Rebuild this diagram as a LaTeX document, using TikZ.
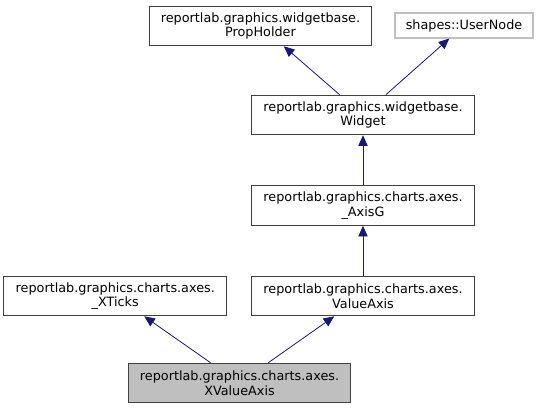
\documentclass[tikz,border=0pt]{standalone}
\usepackage{fontspec}
\setmainfont{DejaVu Sans}
\usepackage{xcolor}
\usetikzlibrary{positioning, arrows.meta}
\definecolor{edgeblue}{RGB}{25,25,112}
\definecolor{boxgray}{RGB}{191,191,191}

\begin{document}
\begin{tikzpicture}[
  x=0.75pt, y=-0.75pt,
  every node/.style={inner sep=2pt},
  cls/.style={rectangle, draw=black!75, line width=0.8pt, align=center,
              minimum width=167pt, minimum height=29.6pt,
              font=\fontsize{9.6}{11}\selectfont},
  ext/.style={cls, draw=black!25, minimum width=103.5pt, minimum height=18.75pt},
  this/.style={cls, fill=boxgray},
  inh/.style={-{Triangle[length=8pt, width=7pt]}, edgeblue, line width=0.6pt}
]
\useasboundingbox (0,0) rectangle (541,409);

% Base classes
\node[cls] (propholder) at (260.5,26) {reportlab.graphics.widgetbase.\\PropHolder};
\node[ext] (usernode) at (464,25.5) {shapes::UserNode};

% Main column
\node[cls] (widget) at (363,115) {reportlab.graphics.widgetbase.\\Widget};
\node[cls, below=37.5pt of widget] (axisg) {reportlab.graphics.charts.axes.\\\_AxisG};
\node[cls, below=37.5pt of axisg] (valueaxis) {reportlab.graphics.charts.axes.\\ValueAxis};
\node[cls, left=18pt of valueaxis] (xticks) {reportlab.graphics.charts.axes.\\\_XTicks};

% Documented class
\node[this] (xvalueaxis) at (239.5,383) {reportlab.graphics.charts.axes.\\XValueAxis};

% Inheritance
\draw[inh] (widget) -- (propholder);
\draw[inh] (widget) -- (usernode);
\draw[inh] (axisg) -- (widget);
\draw[inh] (valueaxis) -- (axisg);
\draw[inh] (xvalueaxis) -- (xticks);
\draw[inh] (xvalueaxis) -- (valueaxis);

\end{tikzpicture}
\end{document}
